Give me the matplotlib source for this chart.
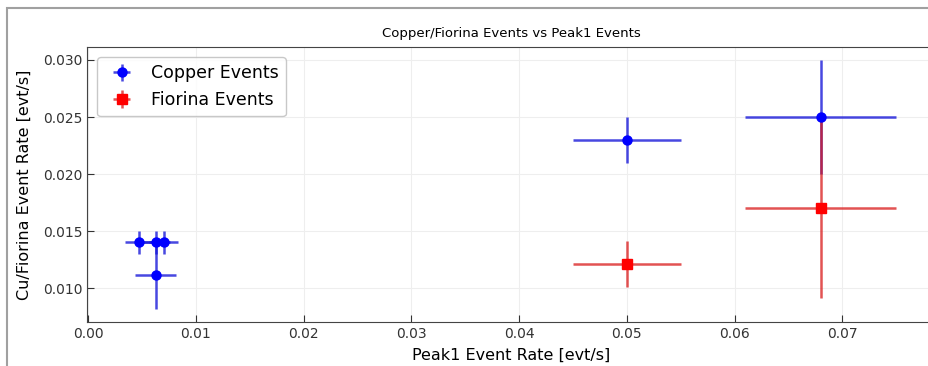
import matplotlib.pyplot as plt
from matplotlib.patches import Rectangle

# Copper events
cu_x = [0.0047, 0.0063, 0.0070, 0.0063, 0.0500, 0.0680]
cu_y = [0.0140, 0.0140, 0.0140, 0.0111, 0.0230, 0.0250]
cu_xerr = [0.0013, 0.0013, 0.0013, 0.0019, 0.0050, 0.0070]
cu_yerr = [0.0010, 0.0010, 0.0010, 0.0029, 0.0020, 0.0050]

# Fiorina events
fi_x = [0.0500, 0.0680]
fi_y = [0.0121, 0.0170]
fi_xerr = [0.0050, 0.0070]
fi_yerr = [0.0020, 0.0079]

fig = plt.figure(figsize=(9.29, 3.66), dpi=100)

# outer frame from the screenshot (right and bottom sides cut off)
frame = Rectangle((7 / 929, -0.5), 2.0, 1 - 8 / 366 + 0.5,
                  transform=fig.transFigure, fill=False,
                  edgecolor='#a0a0a0', linewidth=1.5, zorder=0)
frame.set_clip_on(False)
fig.patches.append(frame)

ax = fig.add_axes([87 / 929, 1 - 322 / 366, (935 - 87) / 929, (322 - 47) / 366])

ax.errorbar(cu_x, cu_y, xerr=cu_xerr, yerr=cu_yerr, fmt='o', color='blue',
            ecolor=(0.1, 0.1, 0.85, 0.8), elinewidth=1.8, markersize=6.5,
            label='Copper Events')
ax.errorbar(fi_x, fi_y, xerr=fi_xerr, yerr=fi_yerr, fmt='s', color='red',
            ecolor=(0.85, 0.1, 0.1, 0.75), elinewidth=1.8, markersize=6.5,
            label='Fiorina Events')

ax.set_xlim(-0.0001, 0.0786)
ax.set_ylim(0.00702, 0.03114)
ax.set_xticks([0.00, 0.01, 0.02, 0.03, 0.04, 0.05, 0.06, 0.07])
ax.set_yticks([0.010, 0.015, 0.020, 0.025, 0.030])
ax.xaxis.set_major_formatter(plt.FormatStrFormatter('%.2f'))
ax.yaxis.set_major_formatter(plt.FormatStrFormatter('%.3f'))

ax.tick_params(direction='in', length=5, labelsize=10, colors='#333333')
ax.grid(True, color='#eeeeee', linewidth=0.8)
ax.set_axisbelow(True)
for s in ax.spines.values():
    s.set_color('#444444')
ax.spines['right'].set_visible(False)

ax.set_title('Copper/Fiorina Events vs Peak1 Events', fontsize=9.5, pad=7)
ax.set_xlabel('Peak1 Event Rate [evt/s]', fontsize=11.5, labelpad=5)
ax.set_ylabel('Cu/Fiorina Event Rate [evt/s]', fontsize=11.5, labelpad=8)

ax.legend(loc='upper left', fontsize=12.5, frameon=True, edgecolor='#bbbbbb',
          borderaxespad=0.6, handletextpad=0.7)

fig.savefig('out.png', dpi=100)
